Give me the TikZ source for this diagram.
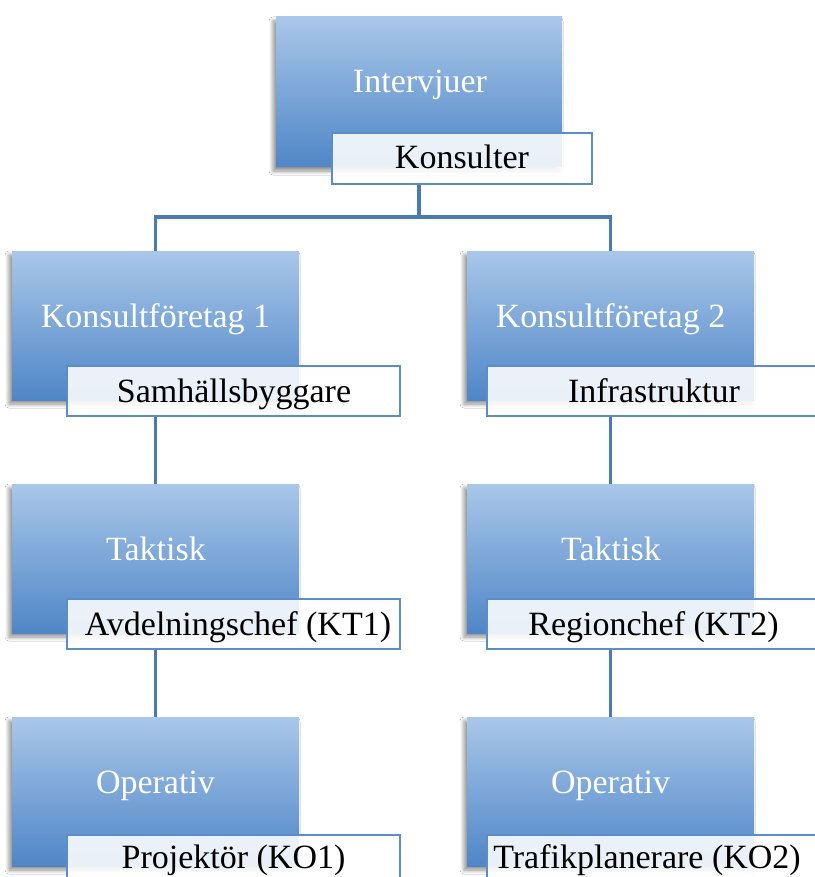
\documentclass[tikz,border=0pt]{standalone}
\usepackage{fontspec}
\setmainfont{Liberation Serif}
\usetikzlibrary{shadows.blur}
\definecolor{btop}{RGB}{169,199,233}
\definecolor{bbot}{RGB}{79,134,199}
\definecolor{lblline}{RGB}{91,141,201}
\definecolor{conn}{RGB}{73,122,178}
\pgfdeclarelayer{bg}
\pgfsetlayers{bg,main}
\tikzset{
 bluebox/.style={rectangle, inner sep=0pt, minimum width=287pt, minimum height=149pt,
   top color=btop, bottom color=bbot, draw=none,
   blur shadow={shadow xshift=-3pt, shadow yshift=-4pt, shadow blur steps=8,
     shadow blur radius=4pt, shadow opacity=45}},
 lblbox/.style={rectangle, inner sep=0pt, minimum width=333pt, minimum height=50pt,
   draw=lblline, line width=2.8pt, fill=white, fill opacity=0.88},
 boxtext/.style={inner sep=0pt, anchor=base, text=white, font=\fontsize{34}{40}\selectfont},
 lbltext/.style={inner sep=0pt, anchor=base, text=black, font=\fontsize{34}{40}\selectfont},
 link/.style={draw=conn, line width=3.5pt}
}
\begin{document}
\begin{tikzpicture}[x=1pt,y=-1pt]
\useasboundingbox (0,0) rectangle (814,877);
% boxes
\node[bluebox, minimum width=286pt, minimum height=150pt] (tb) at (419,92) {};
\node[bluebox] (b1) at (155.5,325.5) {};
\node[bluebox] (b2) at (610.5,325.5) {};
\node[bluebox] (c1) at (155.5,558.5) {};
\node[bluebox] (c2) at (610.5,558.5) {};
\node[bluebox] (d1) at (155.5,791.5) {};
\node[bluebox] (d2) at (610.5,791.5) {};
% labels
\node[lblbox, minimum width=260pt, minimum height=51pt] (tl) at (462,158.5) {};
\node[lblbox] (l1) at (233.5,391) {};
\node[lblbox] (l2) at (653.5,391) {};
\node[lblbox] (m1) at (233.5,624) {};
\node[lblbox] (m2) at (653.5,624) {};
\node[lblbox] (n1) at (233.5,860) {};
\node[lblbox] (n2) at (653.5,860) {};
% texts
\node[boxtext] (tbt) at (420,93) {Intervjuer};
\node[lbltext] (tlt) at (462,169) {Konsulter};
\node[boxtext] (b1t) at (155.5,327) {Konsultföretag 1};
\node[boxtext] (b2t) at (610.5,327) {Konsultföretag 2};
\node[lbltext] (l1t) at (234,402) {Samhällsbyggare};
\node[lbltext] (l2t) at (654,402) {Infrastruktur};
\node[boxtext] (c1t) at (156,560) {Taktisk};
\node[boxtext] (c2t) at (611,560) {Taktisk};
\node[lbltext] (m1t) at (238,635) {Avdelningschef (KT1)};
\node[lbltext] (m2t) at (653.5,635) {Regionchef (KT2)};
\node[boxtext] (d1t) at (155.5,793) {Operativ};
\node[boxtext] (d2t) at (610.5,793) {Operativ};
\node[lbltext] (n1t) at (233.5,868) {Projektör (KO1)};
\node[lbltext] (n2t) at (647,868) {Trafikplanerare (KO2)};
\coordinate (j) at (419,217);
\begin{pgfonlayer}{bg}
\fill[white] (0,0) rectangle (814,877);
\draw[link] (tb.center |- tl.south) -- (j);
\draw[link] (b1.north) |- (j) -| (b2.north);
\draw[link] (b1.center |- l1.south) -- (c1.north);
\draw[link] (b2.center |- l2.south) -- (c2.north);
\draw[link] (c1.center |- m1.south) -- (d1.north);
\draw[link] (c2.center |- m2.south) -- (d2.north);
\end{pgfonlayer}
\end{tikzpicture}
\end{document}
